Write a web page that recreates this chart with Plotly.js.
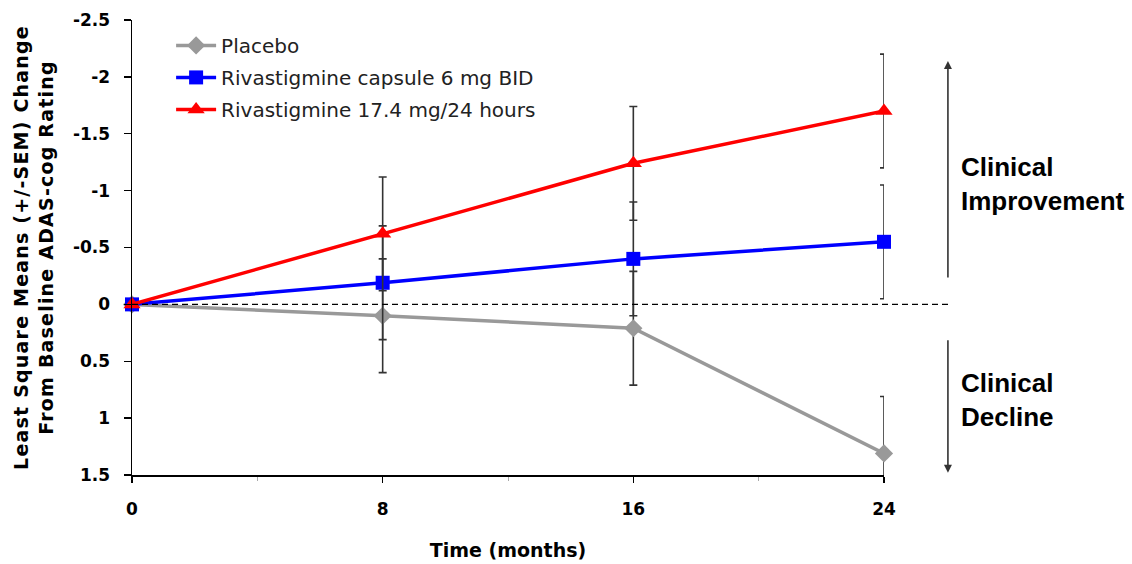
<!DOCTYPE html>
<html>
<head>
<meta charset="utf-8">
<script src="https://cdn.plot.ly/plotly-3.0.1.min.js"></script>
<style>
  html, body { margin: 0; padding: 0; background: #ffffff; }
  #chart { width: 1132px; height: 564px; }
  #chart .ytitle { letter-spacing: 1.2px; }
</style>
</head>
<body>
<div id="chart"></div>
<script>
// Study visits (months)
const months = [0, 8, 16, 24];

// Least square mean change from baseline in ADAS-cog (negative = improvement)
const placebo = [0, 0.10, 0.21, 1.31];
const capsule = [0, -0.19, -0.40, -0.55];
const patch = [0, -0.62, -1.24, -1.70];

// Standard error of the mean at each visit
const placeboSem = [0, 0.5, 0.5, 0.5];
const capsuleSem = [0, 0.5, 0.5, 0.5];
const patchSem = [0, 0.5, 0.5, 0.5];

const seriesNames = ['Placebo', 'Rivastigmine capsule 6 mg BID', 'Rivastigmine 17.4 mg/24 hours'];

// Axis ticks
const xTicks = [0, 8, 16, 24];
const yTicks = [-2.5, -2, -1.5, -1, -0.5, 0, 0.5, 1, 1.5];
const yTickText = ['-2.5', '-2', '-1.5', '-1', '-0.5', '0', '0.5', '1', '1.5'];

const tickFont = { family: 'DejaVu Sans, Arial, sans-serif', size: 17, color: '#000', weight: 'bold' };

function errBars(vals) {
  return { type: 'data', array: vals, visible: true, color: '#333333', thickness: 1.6, width: 4 };
}

const traces = [
  {
    x: months, y: placebo, name: seriesNames[0], type: 'scatter', mode: 'lines+markers',
    line: { color: '#999999', width: 3.5 },
    marker: { symbol: 'diamond', size: 14, color: '#999999' },
    error_y: errBars(placeboSem), cliponaxis: false, legendgroup: 'a'
  },
  {
    x: months, y: capsule, name: seriesNames[1], type: 'scatter', mode: 'lines+markers',
    line: { color: '#0000ff', width: 3.5 },
    marker: { symbol: 'square', size: 14, color: '#0000ff' },
    error_y: errBars(capsuleSem), cliponaxis: false, legendgroup: 'b'
  },
  {
    x: months, y: patch, name: seriesNames[2], type: 'scatter', mode: 'lines+markers',
    line: { color: '#ff0000', width: 3.5 },
    marker: { symbol: 'triangle-up', size: 15, color: '#ff0000' },
    error_y: errBars(patchSem), cliponaxis: false, legendgroup: 'c'
  }
];

const layout = {
  width: 1132, height: 564,
  margin: { l: 132, r: 248, t: 20, b: 89 },
  paper_bgcolor: '#ffffff', plot_bgcolor: '#ffffff',
  showlegend: true,
  legend: {
    x: 0.052, y: 0.987, xanchor: 'left', yanchor: 'top',
    bgcolor: 'rgba(0,0,0,0)', borderwidth: 0,
    font: { family: 'DejaVu Sans, Arial, sans-serif', size: 20, color: '#222' },
    itemwidth: 40, tracegroupgap: 3, traceorder: 'grouped'
  },
  xaxis: {
    range: [0, 24], tickvals: xTicks, ticktext: xTicks.map(String),
    showgrid: false, zeroline: false, showline: true, linecolor: '#000', linewidth: 1.5,
    ticks: 'outside', ticklen: 6, tickwidth: 1.3, tickcolor: '#000', ticklabelstandoff: 12,
    minor: { dtick: 4, tick0: 0, ticks: 'outside', ticklen: 4, tickcolor: '#aaaaaa', tickwidth: 1 },
    tickfont: tickFont,
    title: { text: 'Time (months)', font: { family: 'DejaVu Sans, Arial, sans-serif', size: 19, color: '#000', weight: 'bold' }, standoff: 26 }
  },
  yaxis: {
    range: [1.5, -2.5], tickvals: yTicks, ticktext: yTickText,
    showgrid: false, zeroline: false, showline: true, linecolor: '#000', linewidth: 1.5,
    ticks: 'outside', ticklen: 7, tickwidth: 1.3, tickcolor: '#000', ticklabelstandoff: 10,
    tickfont: tickFont,
    title: {
      text: '<b>Least Square Means (+/-SEM) Change</b><br><b>From Baseline ADAS-cog Rating</b>',
      font: { family: 'DejaVu Sans, Arial, sans-serif', size: 19, color: '#000' }, standoff: 14
    }
  },
  shapes: [
    // zero reference line, running past the plot into the side panel
    { type: 'line', xref: 'paper', yref: 'y', x0: 0, x1: 1.09, y0: 0, y1: 0,
      line: { color: '#000', width: 1.2, dash: '6px,4px' } }
  ],
  annotations: [
    { xref: 'paper', yref: 'y', x: 1.085, y: -2.14, ax: 0, ay: 218, showarrow: true,
      arrowhead: 2, arrowsize: 1, arrowwidth: 1.6, arrowcolor: '#333', text: '', standoff: 0 },
    { xref: 'paper', yref: 'y', x: 1.085, y: 1.48, ax: 0, ay: -134, showarrow: true,
      arrowhead: 2, arrowsize: 1, arrowwidth: 1.6, arrowcolor: '#333', text: '', standoff: 0 },
    { xref: 'paper', yref: 'y', x: 1.1, y: -1.06, xanchor: 'left', yanchor: 'middle', align: 'left',
      showarrow: false, text: '<b>Clinical<br>Improvement</b>',
      font: { family: 'Liberation Sans, Arial, sans-serif', size: 26, color: '#000' } },
    { xref: 'paper', yref: 'y', x: 1.1, y: 0.84, xanchor: 'left', yanchor: 'middle', align: 'left',
      showarrow: false, text: '<b>Clinical<br>Decline</b>',
      font: { family: 'Liberation Sans, Arial, sans-serif', size: 26, color: '#000' } }
  ]
};

Plotly.newPlot('chart', traces, layout, { displayModeBar: false, staticPlot: true });
</script>
</body>
</html>
